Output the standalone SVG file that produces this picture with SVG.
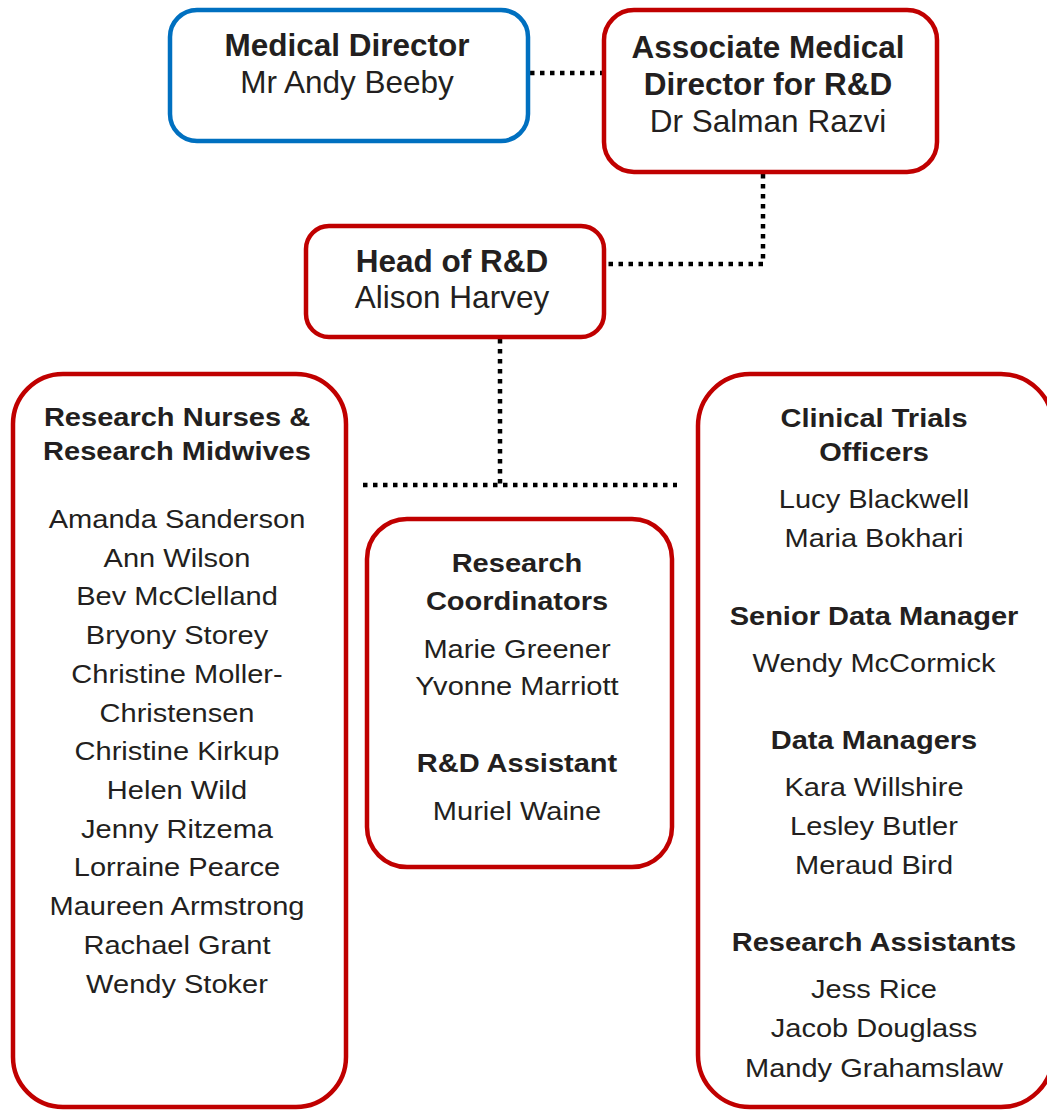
<svg xmlns="http://www.w3.org/2000/svg" width="1047" height="1110" viewBox="0 0 1047 1110">
<style>
.box{fill:#fff;stroke-width:4.5}
.red{stroke:#C00000}
.blue{stroke:#0070C0}
text{font-family:"Liberation Sans",Arial,sans-serif;fill:#231F20;text-anchor:middle}
.big{font-size:31.5px}
.sm{font-size:25.7px}
.b{font-weight:bold}
.conn{fill:none;stroke:#000;stroke-width:4.5;stroke-dasharray:4.5 5.5}
</style>
<rect width="1047" height="1110" fill="#fff"/>
<g id="connectors">
<path class="conn" d="M530 73 H602"/>
<path class="conn" d="M763 174 V264 H608"/>
<path class="conn" d="M500 339 V484"/>
<path class="conn" d="M363 485 H677"/>
</g>
<g id="medical-director">
<rect class="box blue" x="170" y="10" width="358" height="131" rx="27"/>
<text class="big b" x="347" y="56">Medical Director</text>
<text class="big" x="347" y="93">Mr Andy Beeby</text>
</g>
<g id="associate-medical-director">
<rect class="box red" x="604" y="10" width="333" height="162" rx="30"/>
<text class="big b" x="768" y="58">Associate Medical</text>
<text class="big b" x="768" y="95">Director for R&amp;D</text>
<text class="big" x="768" y="132">Dr Salman Razvi</text>
</g>
<g id="head-of-rd">
<rect class="box red" x="306" y="226" width="298" height="111" rx="23"/>
<text class="big b" x="452" y="272">Head of R&amp;D</text>
<text class="big" x="452" y="308">Alison Harvey</text>
</g>
<g id="research-nurses">
<rect class="box red" x="13" y="374" width="333" height="733" rx="50"/>
<g transform="translate(177 0) scale(1.13 1)">
<text class="sm b" x="0" y="426">Research Nurses &amp;</text>
<text class="sm b" x="0" y="460">Research Midwives</text>
<text class="sm" x="0" y="528">Amanda Sanderson</text>
<text class="sm" x="0" y="567">Ann Wilson</text>
<text class="sm" x="0" y="605">Bev McClelland</text>
<text class="sm" x="0" y="644">Bryony Storey</text>
<text class="sm" x="0" y="683">Christine Moller-</text>
<text class="sm" x="0" y="722">Christensen</text>
<text class="sm" x="0" y="760">Christine Kirkup</text>
<text class="sm" x="0" y="799">Helen Wild</text>
<text class="sm" x="0" y="838">Jenny Ritzema</text>
<text class="sm" x="0" y="876">Lorraine Pearce</text>
<text class="sm" x="0" y="915">Maureen Armstrong</text>
<text class="sm" x="0" y="954">Rachael Grant</text>
<text class="sm" x="0" y="993">Wendy Stoker</text>
</g>
</g>
<g id="research-coordinators">
<rect class="box red" x="367" y="519" width="305" height="348" rx="40"/>
<g transform="translate(517 0) scale(1.13 1)">
<text class="sm b" x="0" y="572">Research</text>
<text class="sm b" x="0" y="610">Coordinators</text>
<text class="sm" x="0" y="658">Marie Greener</text>
<text class="sm" x="0" y="695">Yvonne Marriott</text>
<text class="sm b" x="0" y="772">R&amp;D Assistant</text>
<text class="sm" x="0" y="820">Muriel Waine</text>
</g>
</g>
<g id="clinical-trials">
<rect class="box red" x="698" y="374" width="355" height="733" rx="52"/>
<g transform="translate(874 0) scale(1.13 1)">
<text class="sm b" x="0" y="427">Clinical Trials</text>
<text class="sm b" x="0" y="461">Officers</text>
<text class="sm" x="0" y="508">Lucy Blackwell</text>
<text class="sm" x="0" y="547">Maria Bokhari</text>
<text class="sm b" x="0" y="625">Senior Data Manager</text>
<text class="sm" x="0" y="672">Wendy McCormick</text>
<text class="sm b" x="0" y="749">Data Managers</text>
<text class="sm" x="0" y="796">Kara Willshire</text>
<text class="sm" x="0" y="835">Lesley Butler</text>
<text class="sm" x="0" y="874">Meraud Bird</text>
<text class="sm b" x="0" y="951">Research Assistants</text>
<text class="sm" x="0" y="998">Jess Rice</text>
<text class="sm" x="0" y="1037">Jacob Douglass</text>
<text class="sm" x="0" y="1077">Mandy Grahamslaw</text>
</g>
</g>
</svg>
